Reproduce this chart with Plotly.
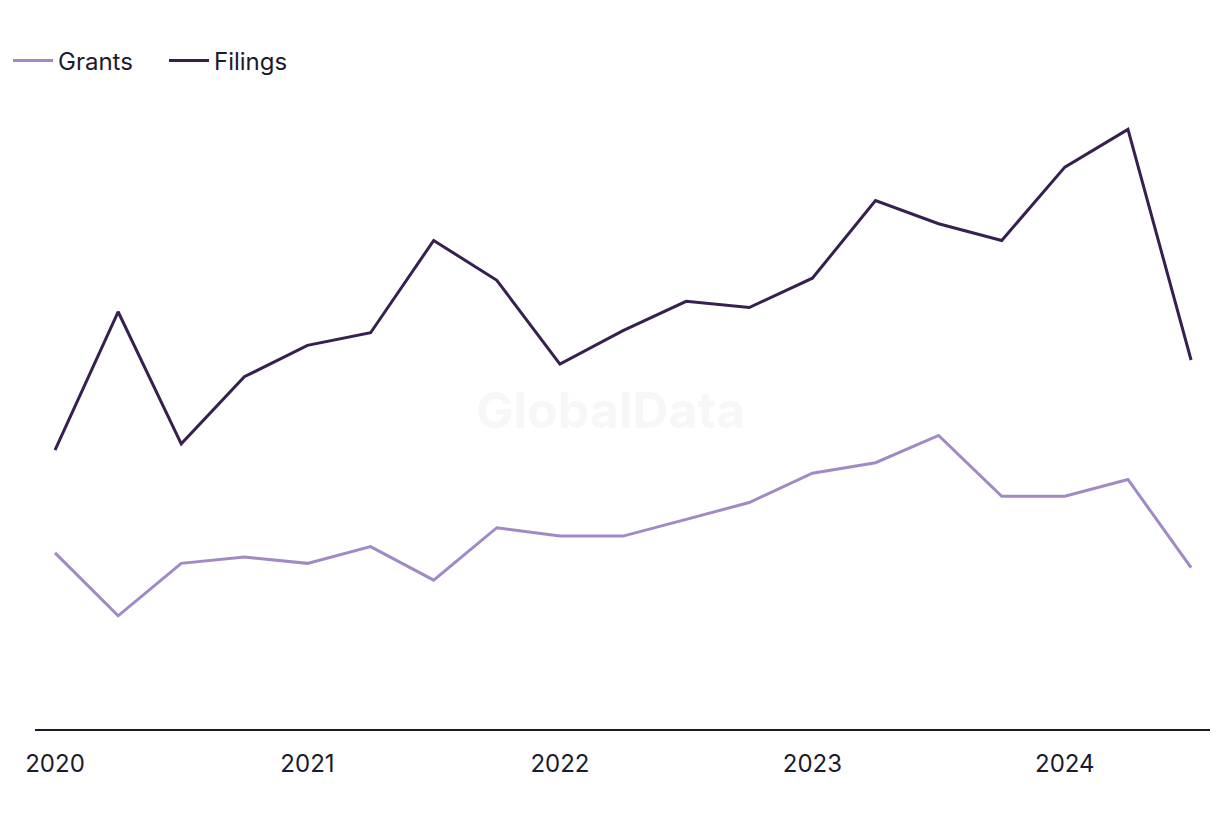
import plotly.graph_objects as go

quarters = ["2020 Q1", "2020 Q2", "2020 Q3", "2020 Q4", "2021 Q1", "2021 Q2", "2021 Q3", "2021 Q4",
            "2022 Q1", "2022 Q2", "2022 Q3", "2022 Q4", "2023 Q1", "2023 Q2", "2023 Q3", "2023 Q4",
            "2024 Q1", "2024 Q2", "2024 Q3"]
grants = [84, 54, 79, 82, 79, 87, 71, 96, 92, 92, 100, 108, 122, 127, 140, 111, 111, 119, 77]
filings = [133, 199, 136, 168, 183, 189, 233, 214, 174, 190, 204, 201, 215, 252, 241, 233, 268, 286, 176]
tick_labels = ["2020", "2021", "2022", "2023", "2024"]

x = list(range(len(quarters)))
tickvals = [i for i, q in enumerate(quarters) if q.endswith("Q1")]

fig = go.Figure()
fig.add_trace(go.Scatter(x=x, y=grants, mode="lines", name="Grants",
                         line=dict(color="#a08ac6", width=3), text=quarters,
                         hovertemplate="%{text}: %{y}<extra>Grants</extra>"))
fig.add_trace(go.Scatter(x=x, y=filings, mode="lines", name="Filings",
                         line=dict(color="#35204f", width=3), text=quarters,
                         hovertemplate="%{text}: %{y}<extra>Filings</extra>"))

fig.add_annotation(text="<b>GlobalData</b>", xref="paper", yref="paper", x=0.49, y=0.507,
                   showarrow=False, font=dict(family="Inter, Noto Sans, sans-serif", size=50, color="#f7f7f7"))

fig.update_layout(
    width=1220, height=820,
    margin=dict(l=27, r=18, t=92, b=99),
    plot_bgcolor="white", paper_bgcolor="white",
    font=dict(family="Inter, Noto Sans, sans-serif", size=24, color="#1b1a2e"),
    showlegend=True,
    legend=dict(orientation="h", xref="container", yref="container", x=-0.0025, xanchor="left",
                y=1 - 53 / 820, yanchor="middle", font=dict(size=24), itemwidth=40,
                entrywidth=101, entrywidthmode="pixels", traceorder="normal"),
    xaxis=dict(range=[-0.317, 18.3], tickvals=tickvals, ticktext=tick_labels,
               showgrid=False, zeroline=False, showline=True, linecolor="#1b1a2e", linewidth=2,
               ticks="outside", ticklen=12, tickcolor="rgba(0,0,0,0)", tickfont=dict(size=24),
               fixedrange=True),
    yaxis=dict(range=[0, 300], showgrid=False, zeroline=False, showticklabels=False,
               showline=False, fixedrange=True),
)

fig.write_html("out.html")
